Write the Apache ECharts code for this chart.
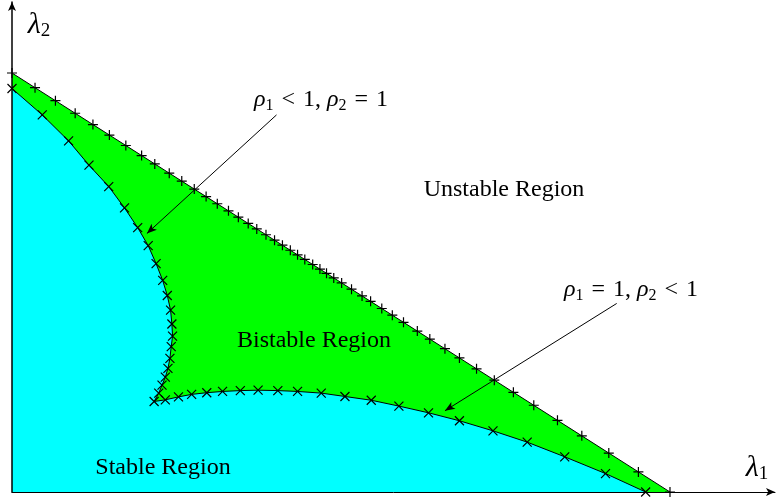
<!DOCTYPE html>
<html>
<head>
<meta charset="utf-8">
<script src="https://cdn.jsdelivr.net/npm/echarts@6/dist/echarts.min.js"></script>
<style>
  html, body { margin: 0; padding: 0; background: #ffffff; }
  #chart { width: 777px; height: 501px; }
</style>
</head>
<body>
<div id="chart"></div>
<script>
// Boundary rho1 < 1, rho2 = 1 : upper edge of the bistable region ("+" markers)
const upperL1 = [0, 0.035, 0.066, 0.096, 0.123, 0.148, 0.173, 0.197, 0.217, 0.239,
  0.258, 0.277, 0.295, 0.312, 0.329, 0.344, 0.359, 0.372, 0.386, 0.399,
  0.411, 0.423, 0.434, 0.445, 0.457, 0.468, 0.478, 0.489, 0.501, 0.516,
  0.532, 0.545, 0.562, 0.578, 0.595, 0.616, 0.635, 0.658, 0.680, 0.706,
  0.733, 0.762, 0.793, 0.829, 0.866, 0.907, 0.952, 1.0];
const upperL2 = [1.0, 0.965, 0.934, 0.904, 0.877, 0.852, 0.827, 0.803, 0.783, 0.761,
  0.742, 0.723, 0.705, 0.688, 0.671, 0.656, 0.641, 0.628, 0.614, 0.601,
  0.589, 0.577, 0.566, 0.555, 0.543, 0.532, 0.522, 0.511, 0.499, 0.484,
  0.468, 0.455, 0.438, 0.422, 0.405, 0.384, 0.365, 0.342, 0.320, 0.294,
  0.267, 0.238, 0.207, 0.171, 0.134, 0.093, 0.048, 0];

// Boundary rho1 = 1, rho2 < 1 : lower edge, folding back at the cusp ("x" markers)
const lowerL1 = [0, 0.046, 0.086, 0.117, 0.147, 0.171, 0.191, 0.207, 0.219, 0.229,
  0.236, 0.241, 0.243, 0.244, 0.242, 0.240, 0.237, 0.233, 0.228, 0.223,
  0.216, 0.233, 0.253, 0.273, 0.296, 0.320, 0.347, 0.374, 0.404, 0.434,
  0.470, 0.506, 0.546, 0.588, 0.633, 0.680, 0.731, 0.783, 0.840, 0.902, 0.963];
const lowerL2 = [0.963, 0.900, 0.838, 0.780, 0.729, 0.678, 0.631, 0.588, 0.545, 0.505,
  0.469, 0.434, 0.401, 0.372, 0.347, 0.319, 0.295, 0.274, 0.255, 0.236,
  0.216, 0.220, 0.227, 0.233, 0.237, 0.240, 0.242, 0.243, 0.242, 0.240,
  0.236, 0.228, 0.219, 0.205, 0.189, 0.170, 0.146, 0.119, 0.084, 0.044, 0];

// Region names and boundary annotations
const regionNames = ['Unstable Region', 'Bistable Region', 'Stable Region'];
const upperNote = '{i|ρ}{s|1}{r|<}{c|1,}{i|ρ}{s|2}{r|=}{n|1}';
const lowerNote = '{i|ρ}{s|1}{r|=}{c|1,}{i|ρ}{s|2}{r|<}{n|1}';

const upperPts = upperL1.map((x, i) => [x, upperL2[i]]);
const lowerPts = lowerL1.map((x, i) => [x, lowerL2[i]]);

const SERIF = '"Liberation Serif", "DejaVu Serif", serif';
const plusSym = 'path://M0,5L10,5M5,0L5,10';
const crossSym = 'path://M0,0L10,10M10,0L0,10';

const mathRich = {
  i: { fontFamily: SERIF, fontStyle: 'italic', fontSize: 24, lineHeight: 28, verticalAlign: 'middle', fill: '#000' },
  n: { fontFamily: SERIF, fontSize: 24, lineHeight: 28, verticalAlign: 'middle', fill: '#000' },
  c: { fontFamily: SERIF, fontSize: 24, lineHeight: 28, verticalAlign: 'middle', fill: '#000', padding: [0, 6, 0, 0] },
  r: { fontFamily: SERIF, fontSize: 24, lineHeight: 28, verticalAlign: 'middle', fill: '#000', padding: [0, 8, 0, 8] },
  s: { fontFamily: SERIF, fontSize: 16, lineHeight: 16, verticalAlign: 'bottom', fill: '#000' }
};
const lamRich = {
  l: { fontFamily: SERIF, fontStyle: 'italic', fontSize: 30, lineHeight: 32, verticalAlign: 'middle', fill: '#000' },
  s: { fontFamily: SERIF, fontSize: 19, lineHeight: 19, verticalAlign: 'bottom', fill: '#000' }
};

function plainText(text, x, y) {
  return {
    type: 'text', x: x, y: y, z: 20, silent: true,
    style: { text: text, fontFamily: SERIF, fontSize: 24, fill: '#000', align: 'center', verticalAlign: 'middle' }
  };
}
function richText(text, rich, x, y) {
  return {
    type: 'text', x: x, y: y, z: 20, silent: true,
    style: { text: text, rich: rich, align: 'center', verticalAlign: 'middle' }
  };
}

const chart = echarts.init(document.getElementById('chart'), null, { renderer: 'canvas' });

chart.setOption({
  animation: false,
  backgroundColor: '#ffffff',
  grid: { left: 12, right: 2, top: 2, bottom: 9, containLabel: false },
  xAxis: {
    type: 'value', min: 0, max: 1.1596, z: 10,
    axisLine: { show: true, symbol: ['none', 'arrow'], symbolSize: [6, 9], lineStyle: { color: '#000', width: 1 } },
    axisTick: { show: false }, axisLabel: { show: false }, splitLine: { show: false }
  },
  yAxis: {
    type: 'value', min: 0, max: 1.1695, z: 10,
    axisLine: { show: true, symbol: ['none', 'arrow'], symbolSize: [6, 9], lineStyle: { color: '#000', width: 1.5 } },
    axisTick: { show: false }, axisLabel: { show: false }, splitLine: { show: false }
  },
  series: [
    {
      // bistable wedge under the upper boundary
      type: 'custom', silent: true, z: 1, clip: false,
      data: [[0, 0]],
      renderItem: function (params, api) {
        const pts = [api.coord([0, 0])].concat(upperPts.map(p => api.coord(p)));
        return { type: 'polygon', shape: { points: pts }, style: { fill: '#00ff00', stroke: null } };
      }
    },
    {
      // stable region under the lower boundary
      type: 'custom', silent: true, z: 2, clip: false,
      data: [[0, 0]],
      renderItem: function (params, api) {
        const pts = [api.coord([0, 0])].concat(lowerPts.map(p => api.coord(p)));
        return { type: 'polygon', shape: { points: pts }, style: { fill: '#00ffff', stroke: null } };
      }
    },
    {
      type: 'line', z: 5, silent: true,
      data: upperPts,
      showAllSymbol: true,
      symbol: plusSym, symbolSize: 10,
      itemStyle: { color: 'none', borderColor: '#000', borderWidth: 1.2 },
      lineStyle: { color: '#000', width: 1 },
      markLine: {
        silent: true, symbol: ['none', 'arrow'], symbolSize: [6, 10],
        label: { show: false },
        lineStyle: { color: '#000', width: 1, type: 'solid' },
        data: [
          [{ coord: [0.402, 0.900] }, { coord: [0.205, 0.617] }],
          [{ coord: [0.919, 0.450] }, { coord: [0.658, 0.194] }]
        ]
      }
    },
    {
      type: 'line', z: 5, silent: true,
      data: lowerPts,
      showAllSymbol: true,
      symbol: crossSym, symbolSize: 9,
      itemStyle: { color: 'none', borderColor: '#000', borderWidth: 1.2 },
      lineStyle: { color: '#000', width: 1 }
    }
  ],
  graphic: [
    plainText(regionNames[0], 504, 190),
    plainText(regionNames[1], 314, 341),
    plainText(regionNames[2], 163, 468),
    richText(upperNote, mathRich, 321, 100),
    richText(lowerNote, mathRich, 631, 290),
    richText('{l|λ}{s|2}', lamRich, 39, 25),
    richText('{l|λ}{s|1}', lamRich, 757, 468)
  ]
});
</script>
</body>
</html>
